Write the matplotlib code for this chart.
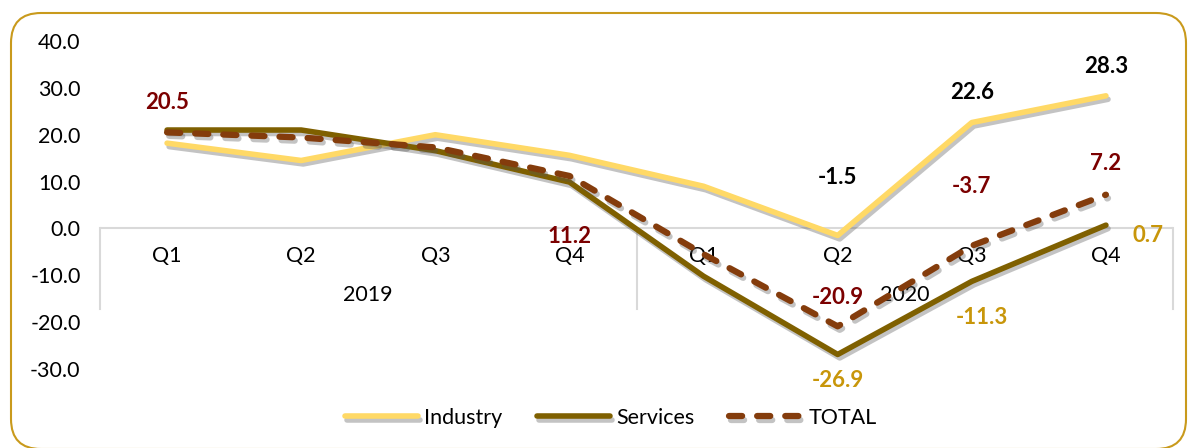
import matplotlib.pyplot as plt
import matplotlib.patheffects as pe
from matplotlib.patches import FancyBboxPatch

quarters = ['Q1', 'Q2', 'Q3', 'Q4', 'Q1', 'Q2', 'Q3', 'Q4']
years = ['2019', '2020']
industry = [18.2, 14.5, 20.0, 15.6, 9.0, -1.5, 22.6, 28.3]
services = [21.0, 21.0, 16.6, 9.9, -10.2, -26.9, -11.3, 0.7]
total = [20.5, 19.4, 17.3, 11.2, -5.5, -20.9, -3.7, 7.2]

# which points get a value label, with label offset in pixels
industry_labels = {5: (0, 58), 6: (0, 30), 7: (0, 29)}
total_labels = {0: (0, 30), 3: (0, -61), 5: (0, 29), 6: (0, 59), 7: (0, 31)}
services_labels = {5: (0, -26), 6: (10, -36), 7: (42, -10)}

c_ind = '#FFD966'
c_srv = '#7F6000'
c_tot = '#843C0C'
c_tot_lbl = '#7B0000'
c_srv_lbl = '#C8960A'
c_border = '#C99A1C'

plt.rcParams['font.family'] = ['Lato', 'DejaVu Sans']
fs = 15.5

W, H = 1189, 448
fig = plt.figure(figsize=(W / 100, H / 100), dpi=100)

# rounded frame drawn in pixel coordinates
bg = fig.add_axes([0, 0, 1, 1])
bg.set_xlim(0, W)
bg.set_ylim(H, 0)
bg.axis('off')
bg.add_patch(FancyBboxPatch((11, 13), 1175, 436,
                            boxstyle='round,pad=0,rounding_size=30',
                            fill=False, edgecolor=c_border, linewidth=1.5))

ax = fig.add_axes([100 / W, (H - 369) / H, 1073 / W, 328 / H])
ax.patch.set_alpha(0)
ax.set_xlim(-0.5, 7.5)
ax.set_ylim(-30, 40)
for s in ax.spines.values():
    s.set_visible(False)
ax.set_xticks([])
ax.set_yticks(range(-30, 41, 10))
ax.set_yticklabels([f'{v:.1f}' for v in range(-30, 41, 10)], fontsize=fs)
ax.tick_params(axis='y', length=0, pad=14)

# category axis at zero
ax.axhline(0, color='#D9D9D9', lw=1.5, zorder=1)
for xv in [-0.5, 3.5, 7.5]:
    ax.plot([xv, xv], [0, -17.3], color='#D9D9D9', lw=1.5, clip_on=False, zorder=1)
for i, q in enumerate(quarters):
    ax.text(i, -5.8, q, ha='center', va='center', fontsize=fs)
for j, y in enumerate(years):
    ax.text(1.5 + 4 * j, -14.3, y, ha='center', va='center', fontsize=fs)

x = range(len(quarters))
shadow = [pe.SimpleLineShadow(offset=(1.5, -2.5), shadow_color='#555555', alpha=0.35),
          pe.Normal()]
ax.plot(x, industry, color=c_ind, lw=4, solid_capstyle='round', label='Industry',
        path_effects=shadow, zorder=3)
ax.plot(x, services, color=c_srv, lw=4, solid_capstyle='round', label='Services',
        path_effects=shadow, zorder=3)
ax.plot(x, total, color=c_tot, lw=4.5, ls=(0, (2.1, 2.4)), dash_capstyle='round',
        label='TOTAL', path_effects=shadow, zorder=4)

def add_labels(vals, spec, color):
    for i, (dx, dy) in spec.items():
        ax.annotate(f'{vals[i]:.1f}', (i, vals[i]), xytext=(dx, dy),
                    textcoords='offset pixels', ha='center', va='center',
                    fontsize=fs + 0.5, fontweight='bold', color=color,
                    annotation_clip=False)

add_labels(industry, industry_labels, 'black')
add_labels(total, total_labels, c_tot_lbl)
add_labels(services, services_labels, c_srv_lbl)

fig.legend(loc='center', bbox_to_anchor=(611 / W, (H - 418) / H), ncol=3,
           frameon=False, fontsize=fs, handlelength=3.4, columnspacing=1.6,
           handletextpad=0.3)

fig.savefig('out.png', dpi=100)
